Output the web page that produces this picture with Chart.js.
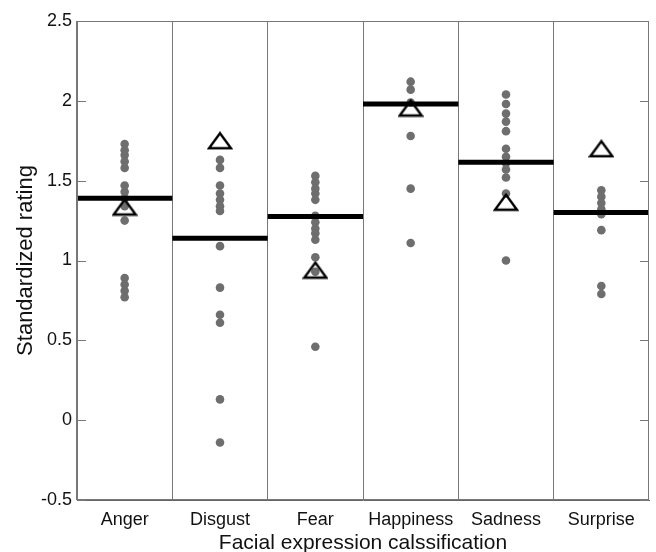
<!DOCTYPE html>
<html>
<head>
<meta charset="utf-8">
<script src="https://cdn.jsdelivr.net/npm/chart.js@4"></script>
<style>
    html, body { margin: 0; padding: 0; background: #fff; }
    #wrap { width: 656px; height: 552px; }
</style>
</head>
<body>
<div id="wrap"><canvas id="chart" width="656" height="552"></canvas></div>
<script>
// categories and values
const categories = ['Anger', 'Disgust', 'Fear', 'Happiness', 'Sadness', 'Surprise'];

const angerRatings = [1.73, 1.69, 1.66, 1.62, 1.58, 1.47, 1.43, 1.39, 1.34, 1.25, 0.89, 0.85, 0.81, 0.77];
const disgustRatings = [1.63, 1.58, 1.47, 1.42, 1.38, 1.34, 1.31, 1.09, 0.83, 0.66, 0.61, 0.13, -0.14];
const fearRatings = [1.53, 1.49, 1.45, 1.42, 1.38, 1.28, 1.24, 1.2, 1.17, 1.13, 1.02, 0.93, 0.46];
const happinessRatings = [2.12, 2.07, 1.99, 1.78, 1.45, 1.11];
const sadnessRatings = [2.04, 1.98, 1.92, 1.87, 1.81, 1.70, 1.65, 1.61, 1.57, 1.52, 1.42, 1.00];
const surpriseRatings = [1.44, 1.40, 1.36, 1.32, 1.29, 1.19, 0.84, 0.79];

const meanRatings = [1.39, 1.14, 1.275, 1.98, 1.615, 1.30];
const triangleRatings = [1.335, 1.75, 0.94, 1.955, 1.365, 1.70];

const yTicks = [-0.5, 0, 0.5, 1, 1.5, 2, 2.5];

const allRatings = [angerRatings, disgustRatings, fearRatings, happinessRatings, sadnessRatings, surpriseRatings];

// dots
const dotPoints = [];
allRatings.forEach((list, i) => {
    list.forEach(v => dotPoints.push({ x: categories[i], y: v }));
});

// mean bars span the full category column
const meanPoints = [];
meanRatings.forEach((m, i) => {
    meanPoints.push({ x: i - 0.5, y: m });
    meanPoints.push({ x: i + 0.5, y: m });
    meanPoints.push({ x: i + 0.5, y: null });
});

// flat open triangle marker
function makeTriangle() {
    const c = document.createElement('canvas');
    c.width = 26;
    c.height = 19;
    const g = c.getContext('2d');
    g.strokeStyle = '#000';
    g.lineWidth = 2.4;
    g.lineJoin = 'miter';
    g.beginPath();
    g.moveTo(13, 2);
    g.lineTo(24, 17);
    g.lineTo(2, 17);
    g.closePath();
    g.stroke();
    return c;
}

const frame = {
    id: 'frame',
    afterDraw(chart) {
        const { ctx, chartArea: a } = chart;
        const y = chart.scales.y;
        ctx.save();
        ctx.strokeStyle = '#777';
        ctx.lineWidth = 1;
        ctx.strokeRect(a.left + 0.5, a.top + 0.5, a.right - a.left - 1, a.bottom - a.top - 1);
        // inward ticks both sides
        y.ticks.forEach(t => {
            const py = Math.round(y.getPixelForValue(t.value)) + 0.5;
            ctx.beginPath();
            ctx.moveTo(a.left, py);
            ctx.lineTo(a.left + 9, py);
            ctx.moveTo(a.right, py);
            ctx.lineTo(a.right - 9, py);
            ctx.stroke();
        });
        ctx.restore();
    }
};

const font = 'Liberation Sans, Arial, sans-serif';

const ctx = document.getElementById('chart').getContext('2d');
new Chart(ctx, {
    data: {
        labels: categories,
        datasets: [
            {
                type: 'line',
                label: 'Mean',
                data: meanPoints,
                xAxisID: 'xl',
                borderColor: '#000',
                borderWidth: 5,
                borderCapStyle: 'butt',
                pointRadius: 0,
                spanGaps: false,
                order: 2
            },
            {
                type: 'scatter',
                label: 'Ratings',
                data: dotPoints,
                xAxisID: 'x',
                backgroundColor: '#6e6e6e',
                borderWidth: 0,
                pointRadius: 4.3,
                order: 3
            },
            {
                type: 'scatter',
                label: 'Classification',
                data: triangleRatings.map((v, i) => ({ x: categories[i], y: v })),
                xAxisID: 'x',
                pointStyle: makeTriangle(),
                order: 1
            }
        ]
    },
    options: {
        responsive: false,
        animation: false,
        layout: { padding: { top: 21, right: 7, left: 0, bottom: 0 } },
        plugins: {
            legend: { display: false },
            tooltip: { enabled: false }
        },
        scales: {
            x: {
                type: 'category',
                labels: categories,
                offset: true,
                grid: {
                    offset: true,
                    color: '#777',
                    drawTicks: false
                },
                border: { color: '#666' },
                ticks: {
                    color: '#111',
                    padding: 9,
                    maxRotation: 0,
                    minRotation: 0,
                    autoSkip: false,
                    font: { family: font, size: 18 }
                },
                title: {
                    display: true,
                    text: 'Facial expression calssification',
                    color: '#111',
                    padding: { top: 0, bottom: -4 },
                    font: { family: font, size: 21 }
                },
                afterFit: s => { s.height = 52; }
            },
            xl: {
                type: 'linear',
                min: -0.5,
                max: 5.5,
                display: false
            },
            y: {
                min: -0.5,
                max: 2.5,
                afterBuildTicks: s => { s.ticks = yTicks.map(v => ({ value: v })); },
                grid: { display: false, drawTicks: false },
                border: { color: '#777' },
                ticks: {
                    color: '#111',
                    padding: 5,
                    font: { family: font, size: 18 },
                    callback: v => String(v)
                },
                title: {
                    display: true,
                    text: 'Standardized rating',
                    color: '#111',
                    padding: { top: 13, bottom: 0 },
                    font: { family: font, size: 22 }
                },
                afterFit: s => { s.width = 77; }
            }
        }
    },
    plugins: [frame]
});
</script>
</body>
</html>
